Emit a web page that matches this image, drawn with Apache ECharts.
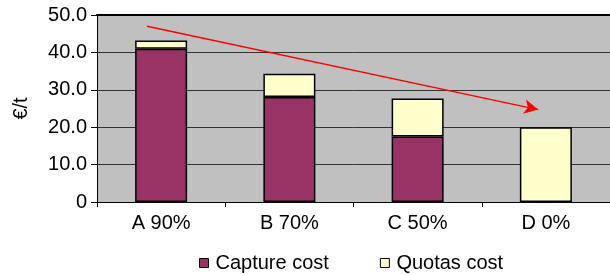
<!DOCTYPE html>
<html>
<head>
<meta charset="utf-8">
<script src="https://cdn.jsdelivr.net/npm/echarts@6/dist/echarts.min.js"></script>
<style>
  html, body { margin: 0; padding: 0; background: #fff; }
  #chart { width: 610px; height: 275px; }
</style>
</head>
<body>
<div id="chart"></div>
<script>
const categories = ["A 90%", "B 70%", "C 50%", "D 0%"];
const captureCost = [41.0, 28.1, 17.5, 0];
const quotasCost = [2.2, 6.2, 10.2, 20.0];
const yTicks = [0, 10, 20, 30, 40, 50];
// arrow endpoints: [category position, €/t]
const arrowStart = [-0.11, 47.0];
const arrowEnd = [2.94, 24.7];

const FONT = "Liberation Sans";
const FS = 20;

const chart = echarts.init(document.getElementById("chart"));

// zero-height stack pieces would still draw a border line
const noZero = (arr) => arr.map((v) => (v === 0 ? "-" : v));

chart.setOption({
  animation: false,
  backgroundColor: "#fff",
  textStyle: { fontFamily: FONT },
  grid: {
    left: 97,
    top: 15,
    width: 518,
    height: 187,
    show: true,
    backgroundColor: "#c0c0c0",
    borderWidth: 0,
  },
  legend: {
    left: 194,
    top: 248,
    icon: "rect",
    itemWidth: 9,
    itemHeight: 9,
    itemGap: 51,
    textStyle: { fontFamily: FONT, fontSize: FS, color: "#000", padding: [0, 0, 0, 2] },
    data: [
      { name: "Capture cost", itemStyle: { borderColor: "#000", borderWidth: 1 } },
      { name: "Quotas cost", itemStyle: { borderColor: "#000", borderWidth: 1 } },
    ],
  },
  xAxis: [
    {
      type: "category",
      data: categories,
      axisLine: { lineStyle: { color: "#000", width: 1 } },
      axisTick: { show: true, length: 5, lineStyle: { color: "#000" } },
      axisLabel: { color: "#000", fontSize: FS, fontFamily: FONT, margin: 11 },
      splitLine: { show: false },
    },
    {
      type: "value",
      position: "top",
      min: -0.5,
      max: 3.5,
      axisLine: { show: true, onZero: false, lineStyle: { color: "#000", width: 2 } },
      axisTick: { show: false },
      axisLabel: { show: false },
      splitLine: { show: false },
    },
  ],
  yAxis: {
    type: "value",
    min: yTicks[0],
    max: yTicks[yTicks.length - 1],
    interval: 10,
    name: "€/t",
    nameLocation: "middle",
    nameRotate: 90,
    nameGap: 66,
    nameTextStyle: { color: "#000", fontSize: FS, fontFamily: FONT },
    axisLine: { show: true, onZero: false, lineStyle: { color: "#000", width: 1 } },
    axisTick: { show: true, length: 6, lineStyle: { color: "#000" } },
    axisLabel: {
      color: "#000",
      fontSize: FS,
      fontFamily: FONT,
      margin: 10,
      formatter: (v) => (v === 0 ? "0" : v.toFixed(1)),
    },
    splitLine: { show: true, lineStyle: { color: "#333", width: 1 } },
  },
  series: [
    {
      name: "Capture cost",
      type: "bar",
      stack: "cost",
      barWidth: 52,
      data: noZero(captureCost),
      itemStyle: { color: "#993366", borderColor: "#000", borderWidth: 1.5 },
    },
    {
      name: "Quotas cost",
      type: "bar",
      stack: "cost",
      barWidth: 52,
      data: noZero(quotasCost),
      itemStyle: { color: "#ffffcc", borderColor: "#000", borderWidth: 1.5 },
    },
    {
      type: "line",
      xAxisIndex: 1,
      data: [arrowStart, arrowEnd],
      showSymbol: false,
      lineStyle: { width: 0, opacity: 0 },
      silent: true,
      markLine: {
        silent: true,
        symbol: ["none", "arrow"],
        symbolSize: [11, 14],
        label: { show: false },
        lineStyle: { color: "#ff0000", width: 1.5, type: "solid" },
        data: [[{ coord: arrowStart }, { coord: arrowEnd }]],
      },
    },
  ],
});
</script>
</body>
</html>
